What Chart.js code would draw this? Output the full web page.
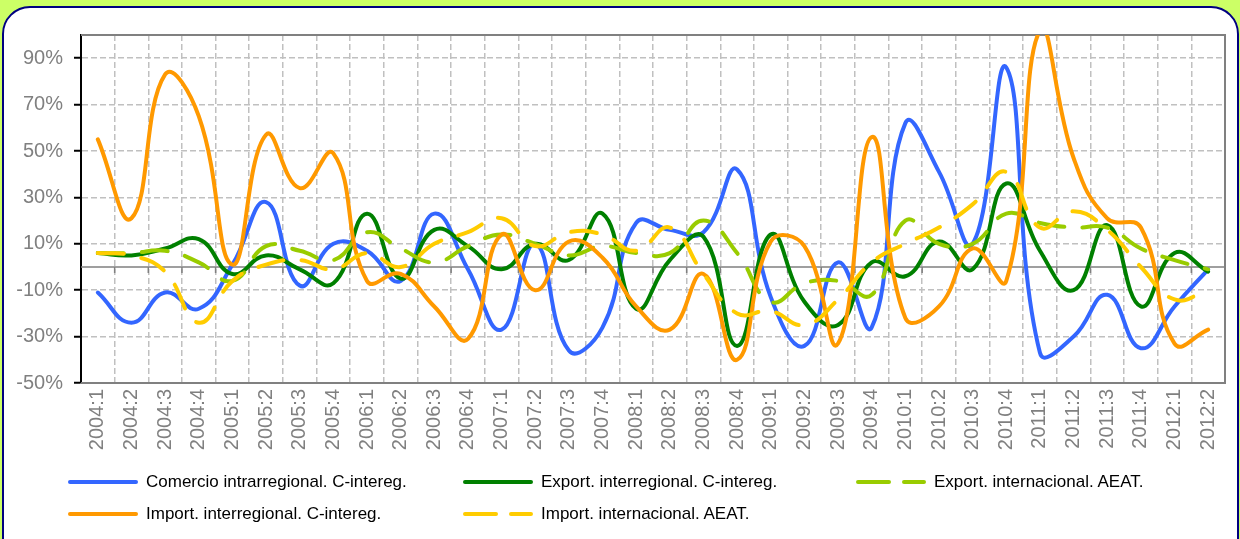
<!DOCTYPE html>
<html lang="es">
<head>
<meta charset="utf-8">
<title>Comercio interregional e internacional</title>
<script src="https://cdn.jsdelivr.net/npm/chart.js@4.4.1/dist/chart.umd.min.js"></script>
<style>
  html, body { margin: 0; padding: 0; }
  body {
    width: 1240px; height: 539px; position: relative; overflow: hidden;
    background: #ccff66;
    font-family: "Liberation Sans", Arial, sans-serif;
  }
  #marco {
    position: absolute; left: 2px; top: 6px; width: 1237px; height: 560px;
    box-sizing: border-box; border: 2px solid #000080; border-radius: 28px;
    background: #fff;
  }
  #grafico { position: absolute; left: 0; top: 0; }
  #leyenda {
    position: absolute; left: 68px; top: 466px;
    display: grid; grid-template-columns: 395px 393px 300px; grid-auto-rows: 32px;
  }
  .item { display: flex; align-items: center; font-size: 17px; color: #000; white-space: nowrap; }
  .item svg { margin-right: 8px; }
</style>
</head>
<body>
<div id="marco"></div>
<canvas id="grafico" width="1240" height="470"></canvas>
<div id="leyenda"></div>

<script>
// trimestres del eje X
const trimestres = [
  "2004:1", "2004:2", "2004:3", "2004:4",
  "2005:1", "2005:2", "2005:3", "2005:4",
  "2006:1", "2006:2", "2006:3", "2006:4",
  "2007:1", "2007:2", "2007:3", "2007:4",
  "2008:1", "2008:2", "2008:3", "2008:4",
  "2009:1", "2009:2", "2009:3", "2009:4",
  "2010:1", "2010:2", "2010:3", "2010:4",
  "2011:1", "2011:2", "2011:3", "2011:4",
  "2012:1", "2012:2"
];

// tasas de variación (%)
const comercioIntra = [-11, -24, -11, -18, 1, 28, -8, 10, 7, -6, 23, -1, -27, 10, -36, -26, 19, 16, 15, 42,
                       -13, -34, 2, -26, 62, 41, 10, 86, -37, -30, -12, -35, -17, -1];
const exportInter   = [6, 5, 8, 12, -3, 5, -1, -7, 23, -5, 16, 9, -1, 10, 3, 23, -18, 3, 13, -34,
                       14, -15, -25, 2, -4, 11, -1, 36, 7, -10, 18, -17, 6, -2];
const exportIntl    = [6, 6, 7, 2, -6, 9, 7, 3, 15, 8, 2, 9, 14, 10, 5, 9, 6, 6, 20, 6,
                       -15, -7, -6, -12, 20, 10, 10, 23, 19, 17, 17, 8, 3, -1];
const importInter   = [55, 21, 83, 65, 1, 57, 34, 49, -6, -3, -17, -31, 14, -10, 11, 4, -17, -27, -3, -40,
                       11, 9, -33, 56, -22, -17, 8, -6, 102, 47, 21, 17, -33, -27];
const importIntl    = [6, 5, -2, -24, -6, 1, 3, -1, 6, 0, 10, 15, 21, 9, 15, 14, 7, 17, -3, -20,
                       -19, -25, -14, 2, 10, 17, 27, 41, 17, 24, 16, 0, -14, -10];

const ticksY = [-50, -30, -10, 10, 30, 50, 70, 90];

const series = [
  { label: "Comercio intrarregional. C-intereg.", data: comercioIntra, color: "#3366ff", dash: [] },
  { label: "Export. interregional. C-intereg.",   data: exportInter,   color: "#008000", dash: [] },
  { label: "Export. internacional. AEAT.",         data: exportIntl,    color: "#99cc00", dash: [26, 18] },
  { label: "Import. interregional. C-intereg.",    data: importInter,   color: "#ff9900", dash: [] },
  { label: "Import. internacional. AEAT.",         data: importIntl,    color: "#ffcc00", dash: [26, 18] }
];

// eje en el cero con sus marcas y el marco gris del área de trazado
const ejeCero = {
  id: "ejeCero",
  beforeDatasetsDraw(chart) {
    const { ctx, chartArea: a, scales: { x, y } } = chart;
    const y0 = y.getPixelForValue(0);
    ctx.save();
    ctx.strokeStyle = "#808080";
    ctx.lineWidth = 2;
    ctx.beginPath();
    ctx.moveTo(a.left, a.top);
    ctx.lineTo(a.right, a.top);
    ctx.lineTo(a.right, a.bottom);
    ctx.lineTo(a.left, a.bottom);
    ctx.stroke();

    ctx.lineWidth = 1.5;
    ctx.beginPath();
    ctx.moveTo(a.left, y0);
    ctx.lineTo(a.right, y0);
    for (let i = 1; i < trimestres.length; i++) {
      const xb = (x.getPixelForTick(i - 1) + x.getPixelForTick(i)) / 2;
      ctx.moveTo(xb, y0);
      ctx.lineTo(xb, y0 + 6);
    }
    ctx.stroke();
    ctx.restore();
  }
};

const ctx = document.getElementById("grafico").getContext("2d");

new Chart(ctx, {
  type: "line",
  data: {
    labels: trimestres,
    datasets: series.map((s, i) => ({
      label: s.label,
      data: s.data,
      borderColor: s.color,
      backgroundColor: s.color,
      borderWidth: 4,
      borderDash: s.dash,
      borderCapStyle: "round",
      pointRadius: 0,
      tension: 0.45,
      fill: false,
      order: series.length - i
    }))
  },
  options: {
    responsive: false,
    animation: false,
    layout: { padding: { top: 35, right: 15, left: 0, bottom: 0 } },
    plugins: {
      legend: { display: false },
      tooltip: { enabled: false }
    },
    scales: {
      x: {
        offset: true,
        grid: { offset: true, color: "#c0c0c0", lineWidth: 1.5, drawTicks: false },
        border: { display: false, dash: [6, 3] },
        ticks: {
          autoSkip: false, maxRotation: 90, minRotation: 90, padding: 6,
          color: "#808080",
          font: { family: "'Liberation Sans', Arial, sans-serif", size: 20 }
        },
        afterFit(scale) { scale.height = 87; }
      },
      y: {
        min: -50,
        max: 100,
        grid: {
          color: "#c0c0c0", lineWidth: 1.5,
          tickColor: "#000", tickLength: 7, tickWidth: 2
        },
        border: { display: true, color: "#000", width: 2, dash: [6, 3] },
        ticks: {
          padding: 11,
          color: "#808080",
          font: { family: "'Liberation Sans', Arial, sans-serif", size: 20 },
          callback: v => v + "%"
        },
        afterBuildTicks(scale) { scale.ticks = ticksY.map(v => ({ value: v })); },
        afterFit(scale) { scale.width = 81; }
      }
    }
  },
  plugins: [ejeCero]
});

// leyenda en tres columnas
const leyenda = document.getElementById("leyenda");
series.forEach(s => {
  const item = document.createElement("div");
  item.className = "item";
  const dashAttr = s.dash.length ? ' stroke-dasharray="31 15"' : "";
  item.innerHTML =
    '<svg width="70" height="8"><line x1="2" y1="4" x2="68" y2="4" stroke="' + s.color +
    '" stroke-width="4" stroke-linecap="round"' + dashAttr + '/></svg>' +
    '<span>' + s.label + '</span>';
  leyenda.appendChild(item);
});
</script>
</body>
</html>
